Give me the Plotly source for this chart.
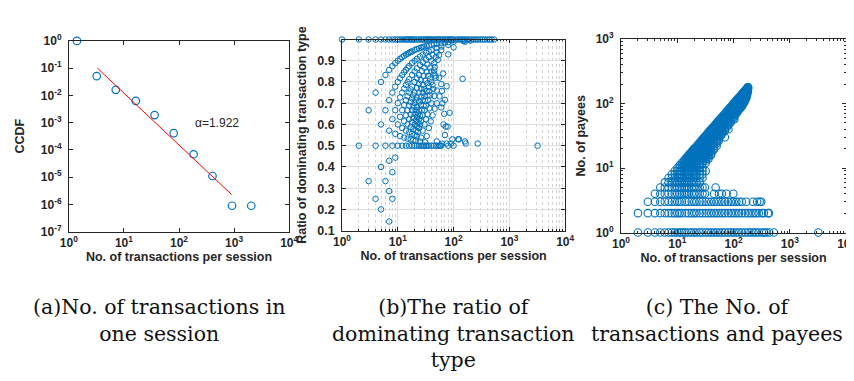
import plotly.graph_objects as go
import math

# ---------------- data ----------------
# (a) CCDF of number of transactions per session
ccdf_tx = [1.4, 3.2, 7.1, 16.4, 36, 80, 184, 405, 918, 2050]
ccdf_val = [1.0, 0.051, 0.016, 0.0063, 0.0019, 0.00041, 0.000069, 0.000011, 8.9e-7, 8.9e-7]
fit_tx = [3.3, 900]
fit_val = [0.1, 2.3e-6]
alpha_text = "α=1.922"

# (b) ratio of dominating transaction type: (transactions per session, ratio)
ratio_one = [(1, 1.0), (2, 1.0), (3, 1.0), (4, 1.0), (5, 1.0), (6, 1.0), (7, 1.0), (8, 1.0), (9, 1.0),
             (10, 1.0), (11, 1.0), (12, 1.0), (13, 1.0), (14, 1.0), (15, 1.0), (16, 1.0), (17, 1.0),
             (18, 1.0), (19, 1.0), (20, 1.0), (22, 1.0), (24, 1.0), (26, 1.0), (28, 1.0), (30, 1.0),
             (32, 1.0), (34, 1.0), (36, 1.0), (38, 1.0), (40, 1.0), (43, 1.0), (46, 1.0), (50, 1.0),
             (53, 1.0), (56, 1.0), (60, 1.0), (65, 1.0), (70, 1.0), (75, 1.0), (80, 1.0), (85, 1.0),
             (90, 1.0), (95, 1.0), (100, 1.0), (110, 1.0), (120, 1.0), (130, 1.0), (140, 1.0),
             (150, 1.0), (160, 1.0), (175, 1.0), (190, 1.0), (210, 1.0), (230, 1.0), (250, 1.0),
             (270, 1.0), (300, 1.0), (330, 1.0), (360, 1.0), (400, 1.0), (440, 1.0), (480, 1.0),
             (530, 1.0)]
ratio_curves = [
    (3, .667), (4, .75), (5, .8), (6, .833), (7, .857), (8, .875), (9, .889), (10, .9), (11, .909),
    (12, .917), (13, .923), (14, .929), (15, .933), (16, .938), (17, .941), (18, .944), (20, .95),
    (22, .955), (24, .958), (26, .962), (28, .964), (30, .967), (33, .97), (36, .972), (40, .975),
    (45, .978), (50, .98), (60, .983), (70, .986), (80, .988), (100, .99), (150, .993), (200, .995),
    (5, .6), (6, .667), (7, .714), (8, .75), (9, .778), (10, .8), (11, .818), (12, .833), (13, .846),
    (14, .857), (15, .867), (16, .875), (18, .889), (20, .9), (22, .909), (25, .92), (28, .929),
    (32, .938), (36, .944), (40, .95), (50, .96), (60, .967), (80, .975),
    (7, .571), (8, .625), (9, .667), (10, .7), (11, .727), (12, .75), (13, .769), (14, .786),
    (15, .8), (16, .813), (18, .833), (20, .85), (22, .864), (25, .88), (28, .893), (32, .906),
    (36, .917), (42, .929), (50, .94), (60, .95),
    (9, .556), (10, .6), (11, .636), (12, .667), (13, .692), (14, .714), (15, .733), (16, .75),
    (17, .765), (18, .778), (20, .8), (22, .818), (24, .833), (27, .852), (30, .867), (34, .882),
    (40, .9), (48, .917), (55, .927),
    (11, .545), (12, .583), (13, .615), (14, .643), (15, .667), (16, .688), (17, .706), (18, .722),
    (19, .737), (20, .75), (22, .773), (24, .792), (26, .808), (29, .828), (33, .848), (38, .868),
    (45, .889), (52, .904),
    (13, .538), (14, .571), (15, .6), (16, .625), (17, .647), (18, .667), (19, .684), (20, .7),
    (21, .714), (22, .727), (24, .75), (26, .769), (28, .786), (31, .806), (35, .829), (40, .85),
    (46, .87),
    (15, .533), (16, .563), (17, .588), (18, .611), (19, .632), (20, .65), (21, .667), (22, .682),
    (24, .708), (26, .731), (28, .75), (30, .767), (34, .794), (38, .816), (44, .841),
    (17, .529), (18, .556), (19, .579), (20, .6), (21, .619), (22, .636), (23, .652), (24, .667),
    (26, .692), (28, .714), (30, .733), (33, .758), (36, .778), (40, .8), (47, .83),
    (19, .526), (20, .55), (21, .571), (22, .591), (23, .609), (24, .625), (25, .64), (27, .667),
    (29, .69), (31, .71), (34, .735), (37, .757), (42, .786),
    (21, .524), (22, .545), (23, .565), (24, .583), (25, .6), (26, .615), (28, .643), (30, .667),
    (32, .688), (35, .714), (38, .737), (43, .767),
    (25, .52), (26, .538), (28, .571), (30, .6), (32, .625), (34, .647), (37, .676), (40, .7),
    (45, .733), (50, .76),
    (31, .516), (33, .545), (36, .583), (39, .615), (42, .643), (46, .674), (50, .7), (56, .732),
    (62, .758),
]
ratio_half = [(2, .5), (4, .5), (6, .5), (8, .5), (10, .5), (12, .5), (14, .5), (16, .5), (18, .5),
              (20, .5), (22, .5), (24, .5), (26, .5), (28, .5), (30, .5), (32, .5), (34, .5),
              (36, .5), (40, .5), (44, .5), (48, .5), (52, .5), (56, .5), (60, .5)]
ratio_low = [(3, .333), (4, .25), (5, .4), (5, .2), (6, .333), (7, .429), (7, .286), (7, .143),
             (8, .375), (8, .25), (9, .444)]
ratio_scattered = [(45, .855), (48, .82), (55, .82), (60, .79), (65, .84), (70, .716), (75, .78),
                   (80, .93), (85, .655), (66, .6), (72, .59), (78, .59), (95, .53), (100, .963),
                   (120, .53), (125, .53), (145, .815), (160, .99), (160, .52), (165, .51),
                   (270, .51), (3200, .5), (58, .5), (62, .51), (50, .52), (70, .55), (68, .65),
                   (60, .68), (63, .7), (75, .51), (90, .51), (80, .5), (100, .5)]

# (c) number of payees vs. transactions per session: one row of sessions per payee count
payee_levels = [1, 2, 3, 4, 5, 6, 7, 8, 9, 10, 11, 12, 13, 14, 15, 16, 17, 18, 19, 20, 22, 24, 26,
                28, 30, 32, 34, 36, 38, 40, 41, 43, 46, 49, 52, 55, 57, 58, 62, 66, 70, 75, 80, 85,
                90, 96, 100, 106, 108, 112, 118, 125, 132, 140, 148, 155, 162, 170, 176, 180]
payee_tx_rows = [
    [2, 3, 4, 5, 6, 7, 8, 9, 10, 11, 12, 13, 14, 16, 18, 20, 22, 25, 28, 32, 36, 40, 45, 50, 56, 63,
     70, 80, 90, 100, 112, 125, 140, 160, 180, 200, 225, 250, 280, 320, 350, 380, 430, 520, 3200],
    [2, 3, 4, 5, 6, 7, 8, 9, 10, 11, 12, 14, 16, 18, 20, 22, 25, 28, 32, 36, 40, 45, 50, 56, 63, 70,
     80, 90, 100, 112, 125, 140, 160, 180, 200, 225, 250, 280, 320, 345, 410, 425],
    [3, 4, 5, 6, 7, 8, 9, 10, 11, 12, 14, 16, 18, 20, 22, 25, 28, 32, 36, 40, 45, 50, 56, 63, 70,
     80, 90, 100, 112, 125, 140, 168, 220, 262, 290, 310],
    [4, 5, 6, 7, 8, 9, 10, 11, 12, 13, 14, 15, 16, 18, 20, 22, 25, 28, 31, 45, 55, 62, 75, 99],
    [5, 6, 7, 8, 9, 10, 11, 12, 13, 14, 15, 16, 18, 20, 22, 25, 28, 31, 48],
    [6, 7, 8, 9, 10, 11, 12, 13, 14, 15, 16, 18, 20, 22, 25],
    [7, 8, 9, 10, 11, 12, 13, 14, 15, 16, 18, 20, 22, 25, 28],
    [8, 9, 10, 11, 12, 13, 14, 15, 16, 18, 20, 22, 25, 28],
    [9, 10, 11, 12, 13, 14, 15, 16, 18, 20, 22, 25, 28, 32],
    [10, 11, 12, 13, 14, 15, 16, 18, 20, 22, 25, 28],
    [11, 12, 13, 14, 16, 18, 20, 22, 25],
    [12, 13, 14, 15, 16, 18, 20, 22, 25, 28, 32],
    [13, 14, 15, 16, 18, 20, 22, 25, 28, 32],
    [14, 15, 16, 18, 20, 22, 25, 28, 32, 36],
    [15, 16, 17, 18, 20, 22, 25, 28, 32, 36],
    [16, 17, 18, 20, 22, 25, 28, 32, 36, 40],
    [17, 18, 20, 22, 25, 28, 32, 36, 40],
    [18, 19, 20, 22, 25, 28, 32, 36, 40],
    [19, 20, 22, 25, 28, 32, 36, 40, 44],
    [20, 21, 22, 24, 26, 28, 32, 36, 40, 45],
    [22, 23, 24, 26, 28, 30, 32, 36, 40, 45, 50],
    [24, 25, 26, 28, 30, 33, 36, 40, 45, 50],
    [26, 27, 28, 30, 33, 36, 40, 45, 50, 54],
    [28, 29, 30, 33, 36, 40, 45, 50, 55],
    [30, 31, 33, 36, 40, 45, 50, 56, 70],
    [32, 33, 36, 40, 45, 50, 56, 60],
    [34, 36, 38, 40, 45, 50, 56, 63],
    [36, 38, 40, 43, 47, 50, 56, 63],
    [38, 40, 43, 47, 50, 56, 63, 70],
    [81],
    [41, 43, 47, 50, 56, 63, 70],
    [43, 45, 50, 56, 63, 70, 76],
    [46, 48, 52, 56, 63, 70, 80],
    [49, 52, 56, 63, 70, 80, 85],
    [52, 56, 60, 66, 72, 80, 90],
    [55, 58, 63, 70, 80, 90],
    [103],
    [58, 62, 66, 72, 80, 90, 100],
    [62, 66, 70, 76, 84, 92, 100],
    [66, 70, 75, 82, 90, 100, 106],
    [70, 74, 80, 86, 94, 100, 112],
    [75, 80, 86, 92, 100, 110, 118],
    [80, 85, 92, 100, 110, 120, 125],
    [85, 90, 98, 106, 115, 125, 132],
    [90, 96, 104, 112, 125, 135, 140],
    [96, 102, 110, 120, 130, 140, 145],
    [100, 106, 115, 125, 135, 150],
    [106, 112, 120, 130, 140, 150, 155],
    [155],
    [112, 118, 125, 135, 145, 160],
    [118, 125, 132, 142, 155, 165],
    [125, 132, 140, 150, 160, 170],
    [132, 140, 150, 160, 170],
    [140, 148, 156, 165, 175],
    [148, 155, 165, 175],
    [155, 162, 170, 180],
    [162, 170, 178],
    [170, 175, 180],
    [176, 182],
    [180],
]

x_ticks_log = [1, 10, 100, 1000, 10000]
x_tick_text = ["10<sup>0</sup>", "10<sup>1</sup>", "10<sup>2</sup>", "10<sup>3</sup>", "10<sup>4</sup>"]
ccdf_ticks = [1e-7, 1e-6, 1e-5, 1e-4, 1e-3, 1e-2, 1e-1, 1]
ccdf_tick_text = ["10<sup>-7</sup>", "10<sup>-6</sup>", "10<sup>-5</sup>", "10<sup>-4</sup>",
                  "10<sup>-3</sup>", "10<sup>-2</sup>", "10<sup>-1</sup>", "10<sup>0</sup>"]
ratio_ticks = [0.1, 0.2, 0.3, 0.4, 0.5, 0.6, 0.7, 0.8, 0.9]
ratio_tick_text = ["0.1", "0.2", "0.3", "0.4", "0.5", "0.6", "0.7", "0.8", "0.9"]
payee_ticks = [1, 10, 100, 1000]
payee_tick_text = ["10<sup>0</sup>", "10<sup>1</sup>", "10<sup>2</sup>", "10<sup>3</sup>"]
captions = ["(a)No. of transactions in<br>one session",
            "(b)The ratio of<br>dominating transaction<br>type",
            "(c) The No. of<br>transactions and payees"]

# ---------------- styling ----------------
W, H = 854, 381
BLUE = "#0072BD"
AX = "#262626"
SANS = "Liberation Sans"


def bold(lst):
    return ["<b>" + t + "</b>" for t in lst]


def minor_vals(lo_exp, hi_exp):
    vals = []
    for e in range(lo_exp, hi_exp):
        for m in range(2, 10):
            vals.append(m * 10 ** e)
    return vals


def px_dom(a, b):
    return [a / W, b / W]


def py_dom(top, bottom):
    return [1 - bottom / H, 1 - top / H]


log_font = dict(family=SANS, size=12, color=AX)
lin_font = dict(family=SANS, size=12.5, color=AX)
base = dict(showline=True, linecolor=AX, linewidth=0.8, mirror="ticks", ticks="inside",
            ticklen=4, tickcolor=AX, tickwidth=0.8, zeroline=False, showgrid=False,
            tickfont=log_font)
title_font = dict(family=SANS, size=12.5, color=AX)

fig = go.Figure()

# panel a
fig.add_trace(go.Scatter(x=ccdf_tx, y=ccdf_val, mode="markers", xaxis="x", yaxis="y",
                         cliponaxis=False,
                         marker=dict(symbol="circle-open", size=7.5, color=BLUE, line=dict(width=1.2)),
                         showlegend=False))
fig.add_trace(go.Scatter(x=fit_tx, y=fit_val, mode="lines", xaxis="x", yaxis="y",
                         line=dict(color="#FF0000", width=1), showlegend=False))

# panel b
pts_b = ratio_one + ratio_curves + ratio_half + ratio_low + ratio_scattered
fig.add_trace(go.Scatter(x=[p[0] for p in pts_b], y=[p[1] for p in pts_b], mode="markers",
                         xaxis="x2", yaxis="y2", cliponaxis=False,
                         marker=dict(symbol="circle-open", size=5.5, color=BLUE, line=dict(width=1)),
                         showlegend=False))

# panel c
cx, cy = [], []
for lvl, row in zip(payee_levels, payee_tx_rows):
    for t in row:
        cx.append(t)
        cy.append(lvl)
fig.add_trace(go.Scatter(x=cx, y=cy, mode="markers", xaxis="x3", yaxis="y3", cliponaxis=False,
                         marker=dict(symbol="circle-open", size=7.5, color=BLUE, line=dict(width=1.1)),
                         showlegend=False))

xlog = dict(base, type="log", range=[0, 4], tickvals=x_ticks_log, ticktext=bold(x_tick_text))
xtitle = dict(text="<b>No. of transactions per session</b>", font=title_font, standoff=3)

fig.update_layout(
    width=W, height=H, margin=dict(l=0, r=0, t=0, b=0),
    paper_bgcolor="white", plot_bgcolor="white",
    xaxis=dict(xlog, domain=px_dom(53, 278), anchor="y", title=xtitle),
    yaxis=dict(base, type="log", range=[-7, 0], domain=py_dom(25, 224), anchor="x",
               tickvals=ccdf_ticks, ticktext=bold(ccdf_tick_text), ticklabelstandoff=4,
               title=dict(text="<b>CCDF</b>", font=title_font, standoff=13)),
    xaxis2=dict(xlog, domain=px_dom(332, 560), anchor="y2", title=xtitle,
                showgrid=True, gridcolor="#dedede", gridwidth=1,
                minor=dict(tickvals=minor_vals(0, 4), ticks="inside", ticklen=2, tickcolor=AX,
                           showgrid=True, gridcolor="#d4d4d4", griddash="dot", gridwidth=1)),
    yaxis2=dict(base, range=[0.1, 1.0], domain=py_dom(23.5, 223), anchor="x2",
                tickvals=ratio_ticks, ticktext=bold(ratio_tick_text), tickfont=lin_font,
                ticklabelstandoff=4,
                showgrid=True, gridcolor="#dedede", gridwidth=1,
                title=dict(text="<b>Ratio of dominating transaction type</b>", font=title_font,
                           standoff=7)),
    xaxis3=dict(xlog, domain=px_dom(617, 847), anchor="y3", title=xtitle,
                minor=dict(tickvals=minor_vals(0, 4), ticks="inside", ticklen=2, tickcolor=AX)),
    yaxis3=dict(base, type="log", range=[0, 3], domain=py_dom(23, 225), anchor="x3",
                tickvals=payee_ticks, ticktext=bold(payee_tick_text), ticklabelstandoff=4,
                minor=dict(tickvals=minor_vals(0, 3), ticks="inside", ticklen=2, tickcolor=AX),
                title=dict(text="<b>No. of payees</b>", font=title_font, standoff=7)),
)

fig.add_annotation(x=math.log10(180), y=-3.02, xref="x", yref="y", text=alpha_text,
                   showarrow=False, xanchor="left", yanchor="middle",
                   font=dict(family=SANS, size=12, color=AX))

cap_x = [145, 446, 715]
for cx_px, txt in zip(cap_x, captions):
    fig.add_annotation(x=cx_px / W, y=1 - 288 / H, xref="paper", yref="paper", text=txt,
                       showarrow=False, xanchor="center", yanchor="top", align="center",
                       font=dict(family="DejaVu Serif", size=20.5, color="#111111"))

fig.write_html("out.html")
